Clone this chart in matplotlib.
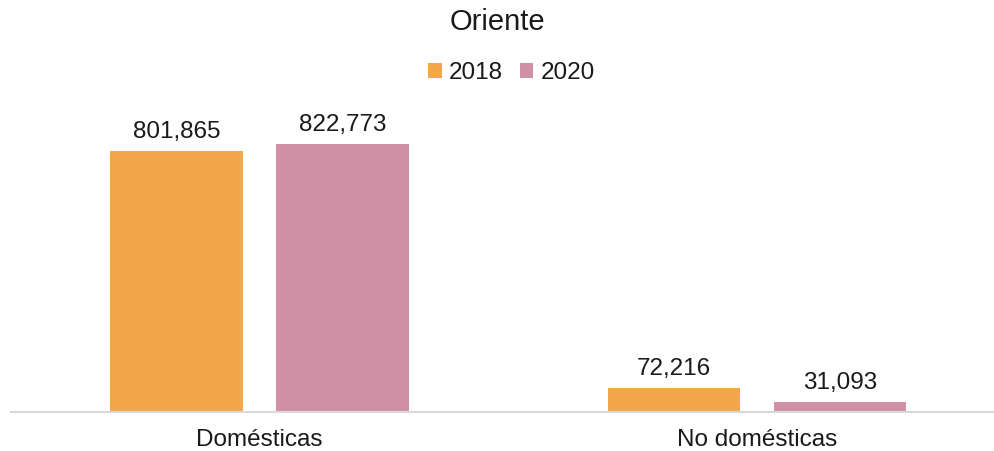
import matplotlib.pyplot as plt
import numpy as np

plt.rcParams['font.family'] = ['Liberation Sans', 'DejaVu Sans']

categories = ['Domésticas', 'No domésticas']
years = ['2018', '2020']
values_2018 = [801865, 72216]
values_2020 = [822773, 31093]
colors = ['#F3A64A', '#D091A7']

fig = plt.figure(figsize=(9.95, 4.51), dpi=100)
ax = fig.add_axes([0.011, 0.0865, 0.989, 0.692])

x = np.arange(len(categories))
width = 0.266
offset = 0.167

for vals, year, color, dx in zip([values_2018, values_2020], years, colors, [-offset, offset]):
    bars = ax.bar(x + dx, vals, width, color=color, label=year)
    for b, v in zip(bars, vals):
        ax.annotate(f'{v:,}', (b.get_x() + b.get_width() / 2, v),
                    xytext=(0, 6), textcoords='offset points',
                    ha='center', va='bottom', fontsize=17.5, color='#1a1a1a')

ax.set_xlim(-0.5, 1.479)
ax.set_ylim(0, 958500)
ax.set_xticks(x)
ax.set_xticklabels(categories, fontsize=17.5, color='#1a1a1a')
ax.tick_params(axis='x', length=0, pad=12)
ax.set_yticks([])
for side in ['top', 'right', 'left']:
    ax.spines[side].set_visible(False)
ax.spines['bottom'].set_color('#D9D9D9')
ax.spines['bottom'].set_linewidth(1.5)

fig.text(0.5, 0.952, 'Oriente', ha='center', va='center', fontsize=21, color='#1a1a1a')
fig.legend(loc='center', bbox_to_anchor=(0.514, 0.838), ncol=2, frameon=False,
           fontsize=17.5, handlelength=0.55, handleheight=0.55, handletextpad=0.3,
           columnspacing=0.7, labelcolor='#1a1a1a')

fig.savefig('out.png', dpi=100)
